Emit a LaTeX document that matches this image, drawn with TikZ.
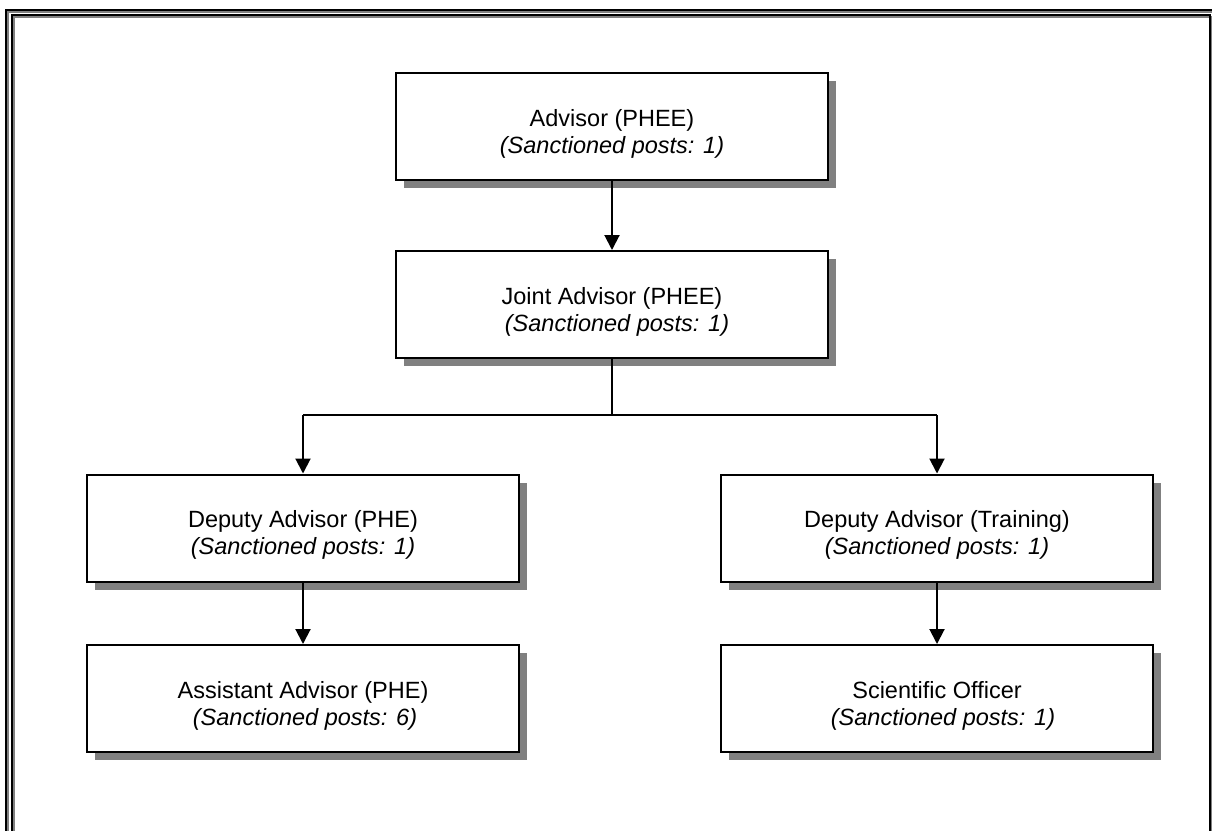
\documentclass[tikz,border=0pt]{standalone}
\usepackage{fontspec}
\setmainfont{Liberation Sans}
\usetikzlibrary{arrows.meta,shadows}
\definecolor{shadowgray}{RGB}{128,128,128}
\begin{document}
\begin{tikzpicture}[x=1pt,y=-1pt,
  orgbox/.style={draw=black, line width=2pt, fill=white,
    minimum width=432pt, minimum height=107pt, inner sep=0pt,
    drop shadow={shadow xshift=8pt, shadow yshift=-8pt,
      fill=shadowgray, opacity=1}},
  boxtext/.style={font=\fontsize{23.5}{27}\selectfont, align=center,
    inner sep=0pt, yshift=-7pt},
  link/.style={draw=black, line width=2pt},
  arrowlink/.style={link, -{Triangle[width=15pt,length=15pt]}},
  frameline/.style={draw=black, line width=2.6pt},
  frameshade/.style={draw=shadowgray, line width=1.4pt}]
  \useasboundingbox (0,0) rectangle (1212,830);
  \clip (0,0) rectangle (1212,830);

  % double page frame
  \draw[frameshade] (8,12) rectangle (1218,842);
  \draw[frameline] (6,10) rectangle (1216,840);
  \draw[frameshade] (14,17) rectangle (1212,842);
  \draw[frameline] (12,15) rectangle (1210,840);

  % boxes
  \node[orgbox] (b1) at (612,126.5) {};
  \node[orgbox] (b2) at (612,304.5) {};
  \node[orgbox] (b3) at (303,528) {};
  \node[orgbox] (b4) at (937,528) {};
  \node[orgbox] (b5) at (303,698.5) {};
  \node[orgbox] (b6) at (937,698.5) {};

  % connectors
  \coordinate (split) at (612,415);
  \coordinate (lefthook) at (303,415);
  \coordinate (righthook) at (937,415);
  \draw[arrowlink] (b1.south) -- (b2.north);
  \draw[link] (b2.south) -- (split);
  \draw[link] (lefthook) -- (righthook);
  \draw[arrowlink] (lefthook) -- (b3.north);
  \draw[arrowlink] (righthook) -- (b4.north);
  \draw[arrowlink] (b3.south) -- (b5.north);
  \draw[arrowlink] (b4.south) -- (b6.north);

  % labels
  \node[boxtext] (t1) at (b1) {Advisor (PHEE)\\\textit{(Sanctioned posts: 1)}};
  \node[boxtext] (t2) at (b2) {Joint Advisor (PHEE)\\\hspace*{10pt}\textit{(Sanctioned posts: 1)}};
  \node[boxtext] (t3) at (b3) {Deputy Advisor (PHE)\\\textit{(Sanctioned posts: 1)}};
  \node[boxtext] (t4) at (b4) {Deputy Advisor (Training)\\\textit{(Sanctioned posts: 1)}};
  \node[boxtext] (t5) at (b5) {Assistant Advisor (PHE)\\\hspace*{4pt}\textit{(Sanctioned posts: 6)}};
  \node[boxtext] (t6) at (b6) {Scientific Officer\\\hspace*{12pt}\textit{(Sanctioned posts: 1)}};
\end{tikzpicture}
\end{document}
